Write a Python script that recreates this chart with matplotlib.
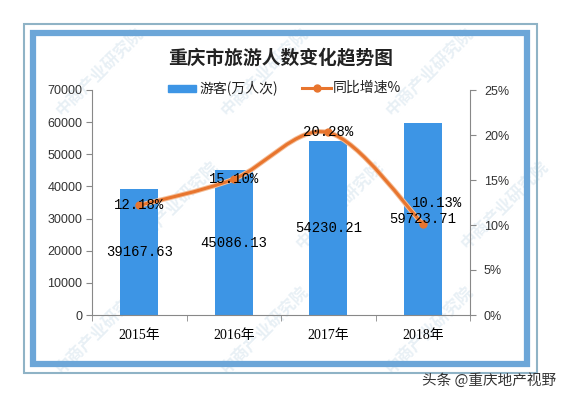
import numpy as np
import matplotlib
matplotlib.use('Agg')
import matplotlib.pyplot as plt
import matplotlib.patheffects as pe
from matplotlib.patches import Rectangle, PathPatch
from matplotlib.path import Path

plt.rcParams['font.family'] = ['Liberation Sans', 'Noto Sans CJK SC']

years = ['2015年', '2016年', '2017年', '2018年']
visitors = [39167.63, 45086.13, 54230.21, 59723.71]
growth = [12.18, 15.10, 20.28, 10.13]
visitor_labels = ['39167.63', '45086.13', '54230.21', '59723.71']
growth_labels = ['12.18%', '15.10%', '20.28%', '10.13%']

bar_color = '#3D95E5'
line_color = '#E8752E'

W, H = 563, 399
fig = plt.figure(figsize=(W / 100, H / 100), dpi=100)
fig.patch.set_facecolor('white')


def px(x, y):
    # pixel coords from top-left -> figure fraction
    return x / W, 1 - y / H


# frame
fig.patches.append(Rectangle(px(24, 373), 513 / W, 349 / H, transform=fig.transFigure,
                             fill=False, edgecolor='#8FB3C6', linewidth=1.5, zorder=0))
fig.patches.append(Rectangle(px(33, 364), 494 / W, 331 / H, transform=fig.transFigure,
                             fill=False, edgecolor='#6CA6D8', linewidth=4.5, zorder=0))

# watermarks (behind the axes)
wm = [(100, 72), (265, 72), (430, 72), (175, 205), (340, 205), (505, 205),
      (100, 330), (265, 330), (430, 330)]
for (wx, wy) in wm:
    fx, fy = px(wx, wy)
    fig.text(fx, fy, '中商产业研究院', rotation=45, fontsize=12, color='#D6E4EE',
             alpha=0.55, ha='center', va='center', family='Noto Sans CJK SC',
             fontweight='bold', zorder=-1)

x = np.arange(len(years))
ax = fig.add_axes([92 / W, 84 / H, 378 / W, 225 / H])
ax.patch.set_alpha(0)
ax.bar(x, visitors, width=0.4, color=bar_color, zorder=2)
ax.set_xlim(-0.5, 3.5)
ax.set_ylim(0, 70000)
ax.set_yticks(np.arange(0, 70001, 10000))
ax.set_yticklabels([str(v) for v in range(0, 70001, 10000)])
ax.set_xticks(x)
ax.set_xticklabels(years, family=['Liberation Serif', 'Noto Sans CJK SC'], fontsize=10)
ax.set_xticks(np.arange(-0.5, 4, 1), minor=True)
ax.tick_params(axis='x', which='major', length=0, pad=10)
ax.tick_params(axis='x', which='minor', length=4, color='#888888', direction='out')
ax.tick_params(axis='y', length=4, color='#888888', labelsize=9, pad=3, labelcolor='#333333')
for s in ['top', 'right']:
    ax.spines[s].set_visible(False)
for s in ['left', 'bottom']:
    ax.spines[s].set_color('#888888')
    ax.spines[s].set_linewidth(0.8)

ax2 = ax.twinx()
ax2.set_ylim(0, 25)
ax2.set_yticks(np.arange(0, 26, 5))
ax2.set_yticklabels([f'{v}%' for v in range(0, 26, 5)])
ax2.tick_params(axis='y', length=4, color='#888888', labelsize=9, pad=6, labelcolor='#333333')
for s in ['top', 'left', 'bottom']:
    ax2.spines[s].set_visible(False)
ax2.spines['right'].set_color('#888888')
ax2.spines['right'].set_linewidth(0.8)

# smoothed line (Catmull-Rom bezier through the points)
pts = np.column_stack([x, growth]).astype(float)
verts = [pts[0]]
codes = [Path.MOVETO]
for i in range(len(pts) - 1):
    p0 = pts[i - 1] if i > 0 else pts[i]
    p1 = pts[i]
    p2 = pts[i + 1]
    p3 = pts[i + 2] if i + 2 < len(pts) else pts[i + 1]
    c1 = p1 + (p2 - p0) / 6
    c2 = p2 - (p3 - p1) / 6
    verts += [c1, c2, p2]
    codes += [Path.CURVE4] * 3
curve = PathPatch(Path(verts, codes), fill=False, edgecolor=line_color, linewidth=2.2,
                  zorder=3, path_effects=[pe.Stroke(linewidth=3.6, foreground='#F4BE98'),
                                          pe.Normal()])
ax2.add_patch(curve)
ax2.plot(x, growth, linestyle='none', marker='o', markersize=5, color=line_color, zorder=4)

# bar labels drawn on ax2 so they sit above the line
for xi, v, lab in zip(x, visitors, visitor_labels):
    ax2.text(xi, v / 2, lab, ha='center', va='center', family='Liberation Mono',
             fontsize=10, color='black', zorder=5, transform=ax.transData)

offsets = [(0, 0), (0, 0), (0, 0), (0.15, 2.3)]
for xi, g, lab, (dx, dy) in zip(x, growth, growth_labels, offsets):
    ax2.text(xi + dx, g + dy, lab, ha='center', va='center', family='Liberation Mono',
             fontsize=10, color='black', zorder=5)

# legend
fx, fy = px(168, 92)
fig.patches.append(Rectangle((fx, fy), 28 / W, 7 / H, transform=fig.transFigure,
                             color=bar_color))
fig.text(*px(199, 88), '游客(万人次)', fontsize=10, va='center', ha='left',
         family='Noto Sans CJK SC', color='#222222')
lx0, ly = px(302, 88)
lx1, _ = px(331, 88)
fig.add_artist(plt.Line2D([lx0, lx1], [ly, ly], color=line_color, linewidth=2.2,
                          transform=fig.transFigure))
fig.add_artist(plt.Line2D([(lx0 + lx1) / 2], [ly], marker='o', markersize=5,
                          color=line_color, transform=fig.transFigure))
fig.text(*px(333, 88), '同比增速%', fontsize=10, va='center', ha='left',
         family='Noto Sans CJK SC', color='#222222')

# title
fig.text(*px(281, 58), '重庆市旅游人数变化趋势图', fontsize=13.5, fontweight='bold',
         ha='center', va='center', family='Noto Sans CJK SC', color='#222222')

# footer
fig.text(*px(556, 380), '头条 @重庆地产视野', fontsize=10.5, ha='right', va='center',
         family='Noto Sans CJK SC', color='#333333')

fig.savefig('out.png', dpi=100)
